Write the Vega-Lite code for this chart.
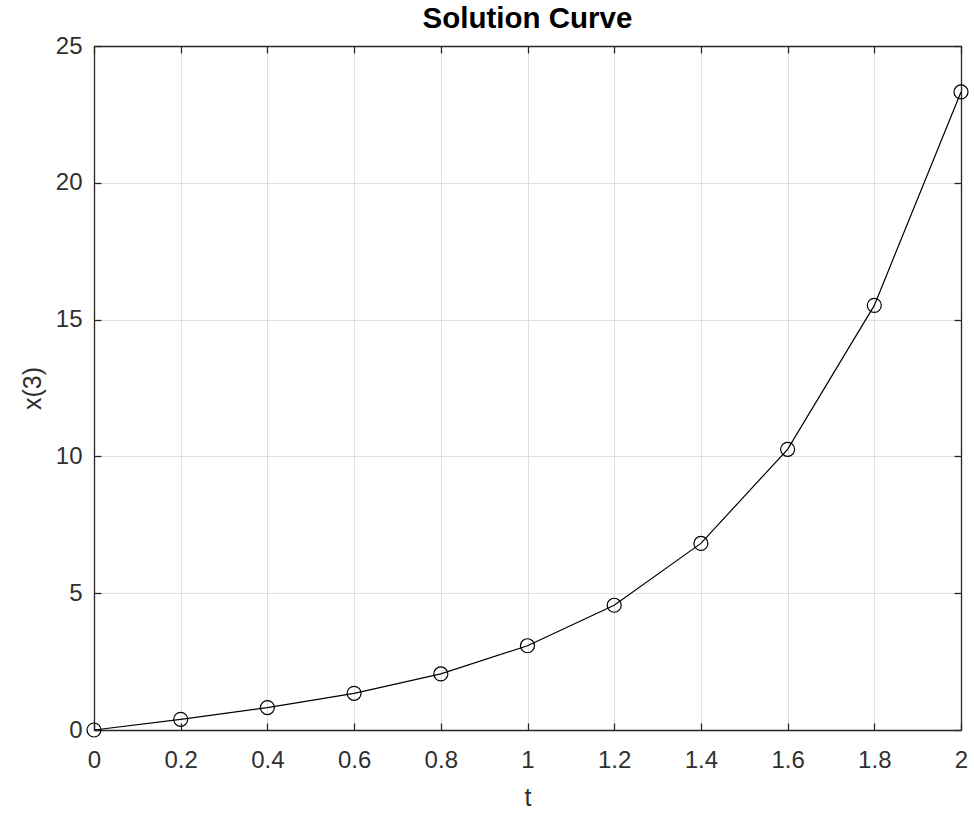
{
  "$schema": "https://vega.github.io/schema/vega-lite/v6.json",
  "width": 867,
  "height": 684,
  "autosize": "none",
  "padding": {"left": 94, "top": 46, "right": 13, "bottom": 87},
  "background": "white",
  "title": {"text": "Solution Curve", "fontSize": 29.5, "font": "Liberation Sans", "fontWeight": "bold", "color": "#000000", "offset": 0, "anchor": "middle"},
  "config": {
    "view": {"stroke": null},
    "axis": {
      "labelFont": "Liberation Sans", "titleFont": "Liberation Sans",
      "labelFontSize": 24, "titleFontSize": 25, "titleFontWeight": "normal",
      "labelColor": "#303030", "titleColor": "#303030",
      "domainColor": "#262626", "tickColor": "#262626", "domainWidth": 1.3, "tickWidth": 1.3,
      "gridColor": "#dfdfdf", "gridWidth": 1, "tickSize": -7, "labelFlush": false
    }
  },
  "data": {"values": [
    {"t": 0, "x": 0},
    {"t": 0.2, "x": 0.39},
    {"t": 0.4, "x": 0.82},
    {"t": 0.6, "x": 1.34},
    {"t": 0.8, "x": 2.05},
    {"t": 1.0, "x": 3.08},
    {"t": 1.2, "x": 4.56},
    {"t": 1.4, "x": 6.82},
    {"t": 1.6, "x": 10.26},
    {"t": 1.8, "x": 15.52},
    {"t": 2.0, "x": 23.32}
  ]},
  "layer": [
    {
      "mark": {"type": "line", "color": "#000000", "strokeWidth": 1.2},
      "encoding": {
        "x": {"field": "t", "type": "quantitative", "scale": {"domain": [0, 2], "nice": false, "zero": false},
              "axis": {"values": [0,0.2,0.4,0.6,0.8,1,1.2,1.4,1.6,1.8,2], "format": "~g", "title": "t", "labelPadding": 25, "titlePadding": 13, "grid": true}},
        "y": {"field": "x", "type": "quantitative", "scale": {"domain": [0, 25], "nice": false},
              "axis": {"values": [0,5,10,15,20,25], "title": "x(3)", "labelPadding": 19, "titlePadding": 10, "grid": true}}
      }
    },
    {
      "mark": {"type": "point", "shape": "circle", "filled": false, "stroke": "#000000", "strokeWidth": 1.2, "size": 196, "opacity": 1},
      "encoding": {
        "x": {"field": "t", "type": "quantitative", "axis": {"orient": "top", "values": [0,0.2,0.4,0.6,0.8,1,1.2,1.4,1.6,1.8,2], "labels": false, "title": null, "grid": false}},
        "y": {"field": "x", "type": "quantitative", "axis": {"orient": "right", "values": [0,5,10,15,20,25], "labels": false, "title": null, "grid": false}}
      }
    }
  ],
  "resolve": {"axis": {"x": "independent", "y": "independent"}}
}
